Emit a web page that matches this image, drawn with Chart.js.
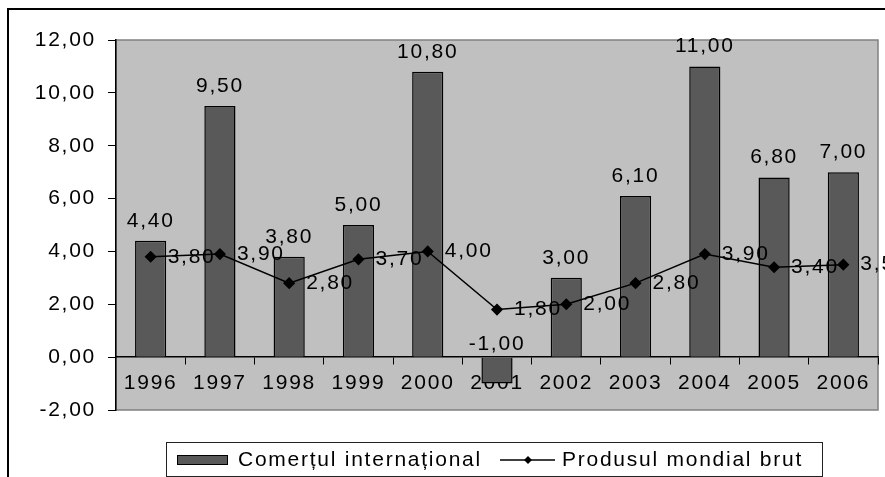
<!DOCTYPE html>
<html><head><meta charset="utf-8">
<script src="https://cdn.jsdelivr.net/npm/chart.js@4/dist/chart.umd.min.js"></script>
<style>html,body{margin:0;padding:0;background:#fff;overflow:hidden}#wrap{width:885px;height:477px;position:relative}</style>
</head><body><div id="wrap"><canvas id="c" width="885" height="477"></canvas></div>
<script>
const categories = ['1996','1997','1998','1999','2000','2001','2002','2003','2004','2005','2006'];
const comertValues = [4.4, 9.5, 3.8, 5.0, 10.8, -1.0, 3.0, 6.1, 11.0, 6.8, 7.0];
const produsValues = [3.8, 3.9, 2.8, 3.7, 4.0, 1.8, 2.0, 2.8, 3.9, 3.4, 3.5];
const seriesNames = ['Comerțul internațional', 'Produsul mondial brut'];
const yMin = -2, yMax = 12, yStep = 2;

const FAMILY = '"Liberation Sans", Arial, sans-serif';
const FSIZE = 21;
const FONT = FSIZE + 'px ' + FAMILY;
const LS = '1.75px';
const fmt = v => v.toFixed(2).replace('.', ',');

const spacingPlugin = {
  id: 'spacing',
  beforeLayout(chart) { chart.ctx.letterSpacing = LS; },
  beforeDraw(chart) {
    const ctx = chart.ctx, a = chart.chartArea;
    ctx.letterSpacing = LS;
    ctx.save();
    ctx.fillStyle = '#c0c0c0';
    ctx.fillRect(a.left, a.top, a.right - a.left, a.bottom - a.top);
    ctx.strokeStyle = '#808080';
    ctx.lineWidth = 1.5;
    ctx.strokeRect(a.left, a.top, a.right - a.left, a.bottom - a.top);
    ctx.strokeStyle = '#000';
    ctx.lineWidth = 2;
    ctx.strokeRect(8, 9, 1200, 1200);
    ctx.restore();
  },
  afterDatasetsDraw(chart) {
    const ctx = chart.ctx;
    ctx.save();
    ctx.letterSpacing = LS;
    ctx.font = FONT;
    ctx.fillStyle = '#000';
    ctx.textBaseline = 'middle';
    const zero = chart.scales.y.getPixelForValue(0);
    chart.getDatasetMeta(1).data.forEach((bar, i) => {
      const v = comertValues[i];
      ctx.textAlign = 'center';
      const y = v >= 0 ? bar.y - 20 : zero - 13;
      ctx.fillText(fmt(v), bar.x, y);
    });
    chart.getDatasetMeta(0).data.forEach((pt, i) => {
      ctx.textAlign = 'left';
      ctx.fillText(fmt(produsValues[i]), pt.x + 17, pt.y);
    });
    ctx.restore();
  },
  afterDraw(chart) {
    const ctx = chart.ctx;
    ctx.save();
    ctx.letterSpacing = LS;
    ctx.font = FONT;
    ctx.strokeStyle = '#222';
    ctx.lineWidth = 1;
    ctx.strokeRect(166.5, 442.5, 656, 34);
    const cy = 460;
    ctx.fillStyle = '#595959';
    ctx.fillRect(177, cy - 5, 51, 10);
    ctx.strokeStyle = '#000';
    ctx.strokeRect(177.5, cy - 4.5, 50, 9);
    ctx.fillStyle = '#000';
    ctx.textAlign = 'left';
    ctx.textBaseline = 'middle';
    ctx.fillText(seriesNames[0], 238, cy);
    ctx.beginPath();
    ctx.moveTo(500, cy); ctx.lineTo(555, cy);
    ctx.lineWidth = 1.5; ctx.stroke();
    ctx.beginPath();
    ctx.moveTo(528, cy - 4); ctx.lineTo(532, cy); ctx.lineTo(528, cy + 4); ctx.lineTo(524, cy);
    ctx.closePath(); ctx.fill();
    ctx.fillText(seriesNames[1], 562, cy);
    ctx.restore();
  }
};

new Chart(document.getElementById('c'), {
  data: {
    labels: categories,
    datasets: [
      {
        type: 'line', label: seriesNames[1], data: produsValues,
        borderColor: '#000', backgroundColor: '#000', borderWidth: 1.5,
        pointStyle: 'rectRot', pointRadius: 5, pointBackgroundColor: '#000', pointBorderColor: '#000',
        tension: 0, order: 0
      },
      {
        type: 'bar', label: seriesNames[0], data: comertValues,
        backgroundColor: '#595959', borderColor: '#000', borderWidth: 1.5,
        barPercentage: 0.45, categoryPercentage: 1, order: 1
      }
    ]
  },
  options: {
    responsive: false, animation: false, devicePixelRatio: 1,
    layout: { padding: { left: 0, right: 7, top: 40, bottom: 67 } },
    plugins: { legend: { display: false }, tooltip: { enabled: false } },
    scales: {
      x: {
        position: { y: 0 },
        offset: true,
        grid: { display: true, drawOnChartArea: false, drawTicks: true, tickLength: 7, color: '#000', offset: true },
        border: { display: true, color: '#000', width: 1.5 },
        ticks: { font: { family: FAMILY, size: FSIZE }, color: '#000', padding: 6, maxRotation: 0, autoSkip: false }
      },
      y: {
        min: yMin, max: yMax,
        afterFit(s) { s.width = 116; },
        afterBuildTicks(s) { const t = []; for (let v = yMin; v <= yMax; v += yStep) t.push({ value: v }); s.ticks = t; },
        grid: { display: true, drawOnChartArea: false, tickLength: 8, color: '#000' },
        border: { display: true, color: '#000', width: 1.5 },
        ticks: { font: { family: FAMILY, size: FSIZE }, color: '#000', padding: 12, callback: v => fmt(v) }
      }
    }
  },
  plugins: [spacingPlugin]
});
</script></body></html>
